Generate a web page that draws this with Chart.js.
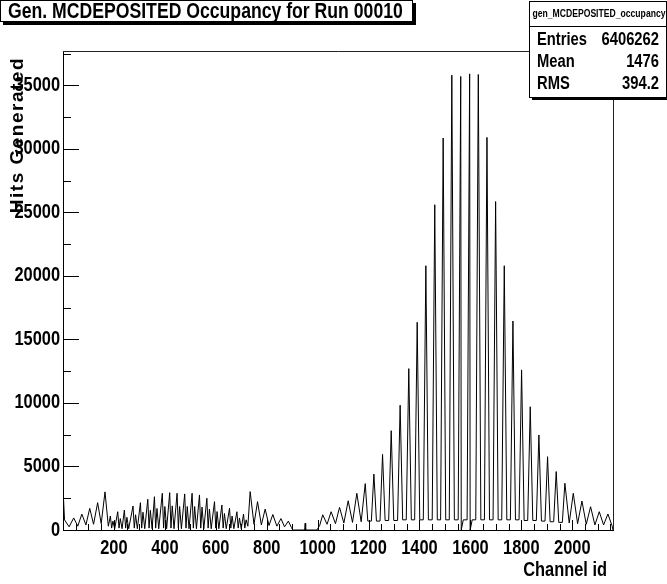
<!DOCTYPE html>
<html>
<head>
<meta charset="utf-8">
<script src="https://cdn.jsdelivr.net/npm/chart.js@4.4.0/dist/chart.umd.min.js"></script>
<style>
  html, body { margin: 0; padding: 0; background: #fff; }
</style>
</head>
<body>
<canvas id="occupancy" width="667" height="584"></canvas>
<script>
// ---- data (channel id, hits) ----
// low wavy part at the start
var lowCh   = [0, 3, 6, 24, 42, 58, 74, 90, 105, 120, 136, 150, 165, 178];
var lowHits = [3300, 3300, 800, 250, 950, 300, 1250, 400, 1700, 450, 2150, 500, 3000, 300];

// dense double spikes between ~180 and ~720
var denseCh = [186, 191, 196, 203, 215, 220, 225, 232, 241, 246, 251, 258,
               275, 280, 285, 292, 304, 309, 314, 321, 333, 338, 343, 350,
               359, 364, 369, 376, 390, 395, 400, 407, 419, 424, 429, 436,
               448, 453, 458, 465, 478, 483, 488, 495, 507, 512, 517, 524,
               536, 541, 546, 553, 565, 570, 575, 582, 595, 600, 605, 612,
               624, 629, 634, 641, 654, 659, 664, 671, 683, 688, 693, 700,
               709, 714, 719, 726];
var denseHits = [1100, 150, 700, 100, 1440, 150, 900, 100, 1570, 150, 1000, 100,
                 1890, 150, 1200, 100, 2150, 150, 1400, 100, 2420, 150, 1550, 100,
                 2620, 150, 1700, 100, 2890, 150, 1850, 100, 2940, 150, 1900, 100,
                 2890, 150, 1850, 100, 2840, 150, 1850, 100, 2890, 150, 1850, 100,
                 2760, 150, 1800, 100, 2500, 150, 1650, 100, 2230, 150, 1450, 100,
                 1970, 150, 1300, 100, 1710, 150, 1100, 100, 1440, 150, 950, 100,
                 1260, 150, 800, 300];

// decaying tail and the empty gap before 1000
var tailCh   = [735, 750, 764, 779, 794, 809, 824, 840, 856, 870, 885, 897, 902, 949, 951, 953, 997];
var tailHits = [3020, 450, 2230, 400, 1650, 350, 1220, 300, 900, 250, 700, 200, 0, 0, 530, 0, 0];

// big comb above 1000: peaks and the valley floors between them
var peakCh   = [1020, 1053, 1086, 1120, 1154, 1187, 1221, 1255, 1289, 1324, 1358, 1391,
                1425, 1460, 1493, 1527, 1562, 1597, 1631, 1665, 1699, 1733, 1767, 1801,
                1835, 1869, 1903, 1937, 1971, 2004, 2038, 2072, 2106, 2140];
var peakHits = [1200, 1440, 1780, 2300, 2890, 3650, 4400, 5950, 7820, 9820, 12700, 16350,
                20800, 25600, 30850, 35800, 35700, 35900, 35850, 30900, 25850, 20800, 16450, 12600,
                9700, 7480, 5770, 4600, 3680, 2890, 2280, 1830, 1440, 1260];
var valleyCh   = [1008, 1037, 1070, 1103, 1137, 1171,
                  1197, 1211, 1231, 1245, 1265, 1279, 1299, 1314, 1334, 1348,
                  1368, 1381, 1401, 1415, 1435, 1450, 1470, 1483, 1503, 1517,
                  1537, 1552, 1572, 1587, 1607, 1621, 1641, 1655, 1675, 1689,
                  1709, 1723, 1743, 1757, 1777, 1791, 1811, 1825, 1845, 1859,
                  1879, 1893, 1913, 1927, 1947, 1961,
                  1988, 2021, 2055, 2089, 2123, 2156, 2160];
var valleyHits = [350, 450, 500, 550, 600, 650,
                  700, 700, 700, 700, 750, 750, 750, 750, 800, 800,
                  800, 800, 800, 800, 800, 800, 800, 800, 800, 800,
                  800, 800, 800, 800, 800, 800, 800, 800, 800, 800,
                  800, 800, 800, 800, 800, 800, 750, 750, 750, 750,
                  700, 700, 650, 650, 600, 600,
                  550, 500, 450, 400, 400, 350, 0];
// dead channels next to the two central peaks
var deadCh   = [1564, 1599];
var deadHits = [0, 0];

var xTickVals = [200, 400, 600, 800, 1000, 1200, 1400, 1600, 1800, 2000];
var yTickVals = [0, 5000, 10000, 15000, 20000, 25000, 30000, 35000];

var titleText = 'Gen. MCDEPOSITED Occupancy for Run 00010';
var statsName = 'gen_MCDEPOSITED_occupancy';
var statsLabels = ['Entries', 'Mean', 'RMS'];
var statsValues = ['6406262', '1476', '394.2'];
var xTitle = 'Channel id';
var yTitle = 'Hits Generated';

// ---- build the point table ----
var pts = [];
function addPts(chs, hits) {
	for (var i = 0; i < chs.length; i++) {
		pts.push({ x: chs[i], y: hits[i] });
	}
}
addPts(lowCh, lowHits);
addPts(denseCh, denseHits);
addPts(tailCh, tailHits);
addPts(peakCh, peakHits);
addPts(valleyCh, valleyHits);
addPts(deadCh, deadHits);
pts.sort(function(a, b){ return a.x - b.x; });

var FONT = '"Liberation Sans", Arial, sans-serif';

// no narrow helvetica installed: squeeze text horizontally around its anchor
var SQUEEZE = 0.82;
function squeezeText(c) {
	c.fillText = function(t, x, y) {
		this.save();
		this.translate(x, y);
		this.scale(SQUEEZE, 1);
		CanvasRenderingContext2D.prototype.fillText.call(this, t, 0, 0);
		this.restore();
	};
}
function unsqueezeText(c) {
	delete c.fillText;
}

// ROOT style frame, inward ticks, title and stats boxes
var rootFrame = {
	id: 'rootFrame',
	beforeDraw: function(chart) { squeezeText(chart.ctx); },
	beforeDatasetsDraw: function(chart) { unsqueezeText(chart.ctx); },
	afterDraw: function(chart) {
		var c = chart.ctx;
		var a = chart.chartArea;
		var xs = chart.scales.x;
		var ys = chart.scales.y;
		c.save();
		c.lineWidth = 1;

		// top and right frame
		c.strokeStyle = '#222';
		c.beginPath();
		c.moveTo(a.left, Math.round(a.top) + 0.5);
		c.lineTo(Math.round(a.right) + 0.5, Math.round(a.top) + 0.5);
		c.lineTo(Math.round(a.right) + 0.5, a.bottom);
		c.stroke();

		// x ticks, major every 200, minor every 50
		c.strokeStyle = '#000';
		c.beginPath();
		for (var v = 50; v < xs.max; v += 50) {
			var px = Math.round(xs.getPixelForValue(v)) + 0.5;
			var len = (v % 200 === 0) ? 10 : 6;
			c.moveTo(px, a.bottom);
			c.lineTo(px, a.bottom - len);
		}
		// y ticks, major every 5000, minor every 2500
		for (var w = 2500; w < ys.max; w += 2500) {
			var py = Math.round(ys.getPixelForValue(w)) + 0.5;
			var ylen = (w % 5000 === 0) ? 16 : 8;
			c.moveTo(a.left, py);
			c.lineTo(a.left + ylen, py);
		}
		c.stroke();

		squeezeText(c);

		// title box
		c.fillStyle = '#000';
		c.fillRect(3, 22, 413, 3);
		c.fillRect(413, 3, 3, 22);
		c.fillStyle = '#fff';
		c.fillRect(0.5, 0.5, 412, 21);
		c.strokeRect(0.5, 0.5, 412, 21);
		c.fillStyle = '#000';
		c.font = 'bold 21.5px ' + FONT;
		c.textAlign = 'left';
		c.textBaseline = 'middle';
		c.fillText(titleText, 8, 12);

		// stats box
		c.fillRect(532, 97, 135, 3);
		c.fillStyle = '#fff';
		c.fillRect(529.5, 1.5, 137, 96);
		c.strokeRect(529.5, 1.5, 137, 96);
		c.beginPath();
		c.moveTo(529.5, 26.5);
		c.lineTo(667, 26.5);
		c.stroke();
		c.fillStyle = '#000';
		c.font = 'bold 10.5px ' + FONT;
		c.textAlign = 'center';
		c.fillText(statsName, 599, 14);
		c.font = 'bold 18px ' + FONT;
		var rowY = [40, 62, 84];
		for (var i = 0; i < statsLabels.length; i++) {
			c.textAlign = 'left';
			c.fillText(statsLabels[i], 537, rowY[i]);
			c.textAlign = 'right';
			c.fillText(statsValues[i], 659, rowY[i]);
		}

		// x axis title
		c.font = 'bold 20px ' + FONT;
		c.textAlign = 'right';
		c.fillText(xTitle, 607, 570);
		unsqueezeText(c);

		// y axis title, spaced out like the ROOT output
		c.save();
		c.translate(18, 57);
		c.rotate(-Math.PI / 2);
		c.font = 'bold 19px ' + FONT;
		if ('letterSpacing' in c) c.letterSpacing = '1.5px';
		c.textAlign = 'right';
		c.fillText(yTitle, 0, 0);
		c.restore();

		c.restore();
	}
};

var ctx = document.getElementById('occupancy');
var occChart = new Chart(ctx, {
	type: 'line',
	data: {
		datasets: [{
			label: 'gen_MCDEPOSITED_occupancy',
			data: pts,
			borderColor: '#000',
			borderWidth: 1,
			pointRadius: 0,
			tension: 0,
			fill: false
		}]
	},
	options: {
		responsive: false,
		animation: false,
		devicePixelRatio: 1,
		layout: { padding: { top: 51, right: 54, bottom: 0, left: 0 } },
		plugins: {
			legend: { display: false },
			tooltip: { enabled: false }
		},
		scales: {
			x: {
				type: 'linear',
				min: 0,
				max: 2160,
				afterBuildTicks: function(s) {
					s.ticks = xTickVals.map(function(v){ return { value: v }; });
				},
				afterFit: function(s) { s.height = 54; },
				ticks: {
					color: '#000',
					font: { family: FONT, size: 20, weight: 'bold' },
					maxRotation: 0,
					autoSkip: false,
					padding: 6,
					callback: function(v) { return String(v); }
				},
				grid: { display: false, drawTicks: false },
				border: { display: true, color: '#000', width: 1 }
			},
			y: {
				type: 'linear',
				min: 0,
				max: 37700,
				afterBuildTicks: function(s) {
					s.ticks = yTickVals.map(function(v){ return { value: v }; });
				},
				afterFit: function(s) { s.width = 63; },
				ticks: {
					color: '#000',
					font: { family: FONT, size: 20, weight: 'bold' },
					padding: 3,
					callback: function(v) { return String(v); }
				},
				grid: { display: false, drawTicks: false },
				border: { display: true, color: '#000', width: 1 }
			}
		}
	},
	plugins: [rootFrame]
});
</script>
</body>
</html>
